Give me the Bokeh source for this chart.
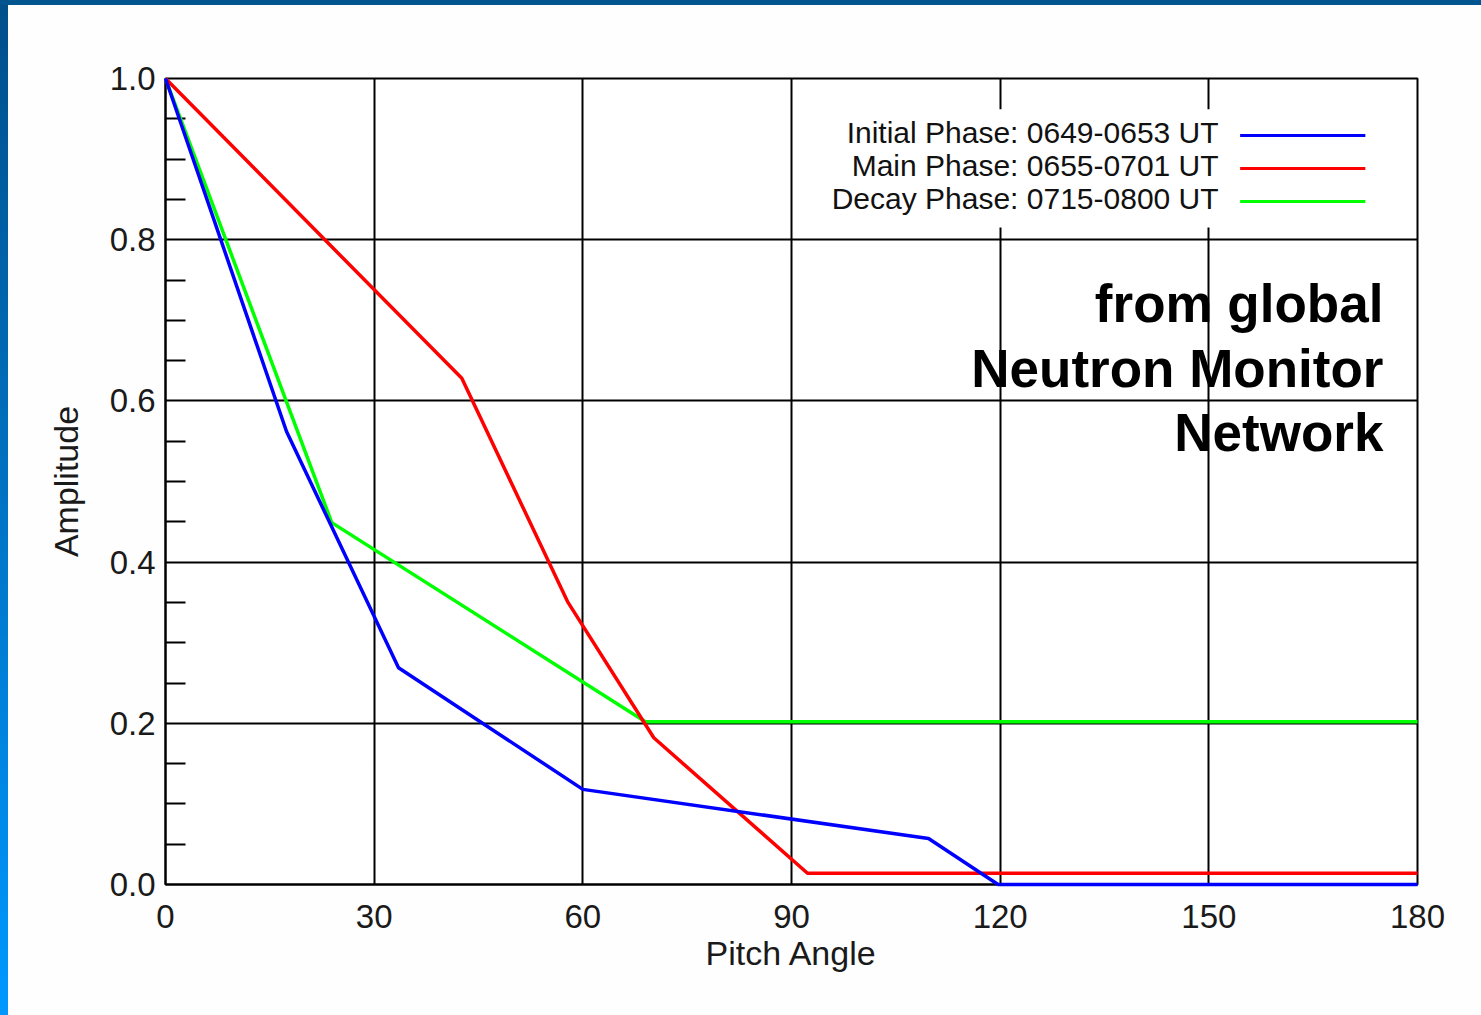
from bokeh.plotting import figure
from bokeh.models import FixedTicker, Label, BoxAnnotation, Range1d, PrintfTickFormatter
from bokeh.embed import file_html
from bokeh.resources import INLINE

# ---- data ----
pitch_ticks = [0, 30, 60, 90, 120, 150, 180]
amp_ticks = [0.0, 0.2, 0.4, 0.6, 0.8, 1.0]
amp_minor = [0.05, 0.1, 0.15, 0.25, 0.3, 0.35, 0.45, 0.5, 0.55, 0.65, 0.7, 0.75, 0.85, 0.9, 0.95]

initial_x = [0, 17.4, 33.5, 60, 109.7, 119.7, 180]
initial_y = [1.0, 0.562, 0.269, 0.118, 0.057, 0.0, 0.0]

main_x = [0, 42.6, 57.8, 70.2, 92.3, 180]
main_y = [1.0, 0.628, 0.351, 0.182, 0.014, 0.014]

decay_x = [0, 23.9, 69.0, 180]
decay_y = [1.0, 0.449, 0.202, 0.202]

series_labels = ["Initial Phase: 0649-0653 UT", "Main Phase: 0655-0701 UT", "Decay Phase: 0715-0800 UT"]
series_colors = ["#0000ff", "#ff0000", "#00ff00"]
note_lines = ["from global", "Neutron Monitor", "Network"]

FONT = "Liberation Sans"

p = figure(frame_width=1252, frame_height=806,
           min_border_left=165, min_border_right=64, min_border_top=78, min_border_bottom=131,
           x_range=Range1d(0, 180), y_range=Range1d(0, 1.0),
           output_backend="svg", toolbar_location=None,
           background_fill_color="white", border_fill_color="white", border_fill_alpha=0.0)

# slide frame strips via CSS background of the plot element
p.styles = {
    "background": ("linear-gradient(#00558f, #00558f) left top / 100% 5px no-repeat, "
                   "linear-gradient(to bottom, #004f8a, #0098ff) left top / 8px 100% no-repeat, "
                   "#fefefe"),
}

# axes
p.xaxis.ticker = FixedTicker(ticks=pitch_ticks, minor_ticks=[])
p.yaxis.ticker = FixedTicker(ticks=amp_ticks, minor_ticks=amp_minor)
p.yaxis.formatter = PrintfTickFormatter(format="%.1f")
p.xaxis.axis_label = "Pitch Angle"
p.yaxis.axis_label = "Amplitude"
for ax in (p.xaxis, p.yaxis):
    ax.axis_line_color = "black"
    ax.axis_line_width = 2
    ax.major_tick_in = 0
    ax.major_tick_out = 0
    ax.major_label_text_font = FONT
    ax.major_label_text_font_size = "33px"
    ax.major_label_text_color = "#1a1a1a"
    ax.axis_label_text_font = FONT
    ax.axis_label_text_font_size = "34px"
    ax.axis_label_text_font_style = "normal"
    ax.axis_label_text_color = "#1a1a1a"
p.yaxis.minor_tick_in = 20
p.yaxis.minor_tick_out = 0
p.yaxis.minor_tick_line_color = "black"
p.yaxis.minor_tick_line_width = 2
p.xaxis.major_label_standoff = 20
p.yaxis.major_label_standoff = 10
p.xaxis.axis_label_standoff = 3
p.yaxis.axis_label_standoff = 22

p.grid.grid_line_color = "black"
p.grid.grid_line_width = 2
p.outline_line_color = "black"
p.outline_line_width = 2

# data lines
p.line(decay_x, decay_y, line_color=series_colors[2], line_width=3.5, level="overlay")
p.line(main_x, main_y, line_color=series_colors[1], line_width=3.5, level="overlay")
p.line(initial_x, initial_y, line_color=series_colors[0], line_width=3.5, level="overlay")

# legend box (white) with text on the left and sample lines on the right
p.add_layout(BoxAnnotation(left=94, right=175, bottom=0.815, top=0.962,
                           fill_color="white", fill_alpha=1.0, line_alpha=0))
leg_base = [0.933, 0.892, 0.851]
leg_line = [0.9293, 0.8883, 0.8474]
for lab, col, yb, yl in zip(series_labels, series_colors, leg_base, leg_line):
    p.add_layout(Label(x=151.4, y=yb, text=lab, text_align="right", text_baseline="alphabetic",
                       text_font=FONT, text_font_size="30px", text_color="#111111"))
    p.add_layout(BoxAnnotation(left=154.5, right=172.5, bottom=yl - 0.0019, top=yl + 0.0019,
                               fill_color=col, fill_alpha=1.0, line_alpha=0))

# note text
for txt, yb in zip(note_lines, [0.7208, 0.6402, 0.5608]):
    p.add_layout(Label(x=175.1, y=yb, text=txt, text_align="right", text_baseline="alphabetic",
                       text_font=FONT, text_font_size="53px", text_font_style="bold",
                       text_color="black"))

open("out.html", "w").write(file_html(p, INLINE))
